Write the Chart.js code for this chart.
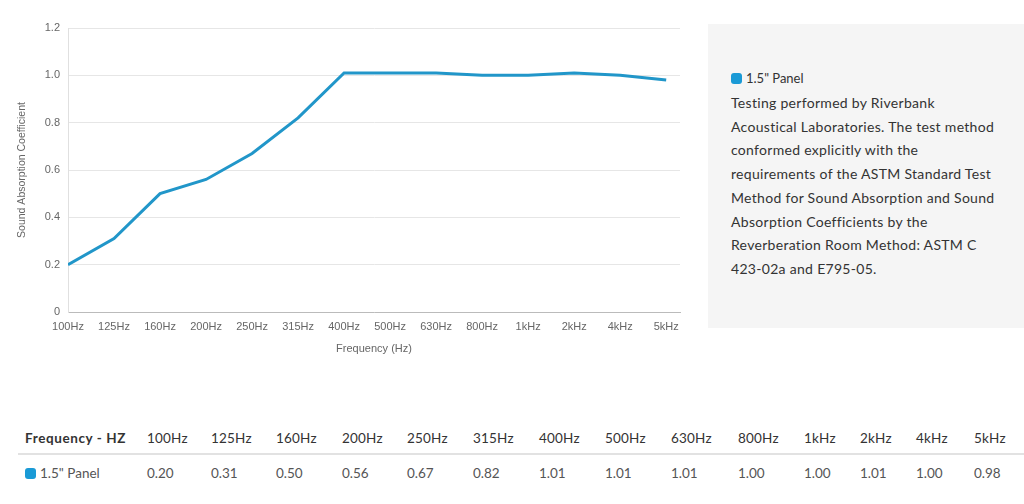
<!DOCTYPE html>
<html>
<head>
<meta charset="utf-8">
<script src="https://cdn.jsdelivr.net/npm/chart.js@4/dist/chart.umd.min.js"></script>
<style>
  html, body { margin: 0; padding: 0; background: #fff; width: 1024px; height: 504px; overflow: hidden; }
  #chartWrap { position: absolute; left: 0; top: 0; width: 690px; height: 356px; }
  #panel { position: absolute; left: 708px; top: 24px; width: 316px; height: 304px; background: #f5f5f5; box-sizing: border-box; padding: 46px 0 0 23px; font-family: Lato, "Open Sans", sans-serif; color: #333; }
  #panel .leg { font-size: 13px; line-height: 16px; display: flex; align-items: center; }
  #panel .sw { display: inline-block; width: 11px; height: 11px; border-radius: 3px; background: #1a9ad6; margin-right: 4px; }
  #panel p { margin: 5px 0 0 0; font-size: 14px; letter-spacing: 0.3px; line-height: 23.7px; white-space: nowrap; }
  #tbl { position: absolute; left: 18px; top: 423px; border-collapse: collapse; table-layout: fixed; font-family: Lato, "Open Sans", sans-serif; }
  #tbl th { font-size: 13.5px; font-weight: 400; color: #333; text-align: left; height: 30px; padding: 0; border-bottom: 2px solid #e2e2e2; letter-spacing: 0.2px; }
  #tbl th.first { font-weight: 700; letter-spacing: 0.6px; }
  #tbl td { font-size: 13.5px; color: #555; height: 36px; padding: 0; }
  .sq { display: inline-block; width: 11px; height: 11px; border-radius: 3px; background: #1a9ad6; margin-right: 4px; vertical-align: -1px; }
</style>
</head>
<body>
<div id="chartWrap"><canvas id="c"></canvas></div>
<div id="panel">
  <div class="leg"><span class="sw"></span><span id="legName"></span></div>
  <p id="desc"></p>
</div>
<table id="tbl"><thead><tr id="hrow"></tr></thead><tbody><tr id="drow"></tr></tbody></table>
<script>
const categories = ["100Hz","125Hz","160Hz","200Hz","250Hz","315Hz","400Hz","500Hz","630Hz","800Hz","1kHz","2kHz","4kHz","5kHz"];
const seriesName = '1.5" Panel';
const panelValues = [0.20, 0.31, 0.50, 0.56, 0.67, 0.82, 1.01, 1.01, 1.01, 1.00, 1.00, 1.01, 1.00, 0.98];
const yTicks = [0, 0.2, 0.4, 0.6, 0.8, 1.0, 1.2];
const descriptionLines = [
  "Testing performed by Riverbank",
  "Acoustical Laboratories. The test method",
  "conformed explicitly with the",
  "requirements of the ASTM Standard Test",
  "Method for Sound Absorption and Sound",
  "Absorption Coefficients by the",
  "Reverberation Room Method: ASTM C",
  "423-02a and E795-05."
];
const tableHeader = "Frequency - HZ";

document.getElementById('legName').textContent = seriesName;
const descEl = document.getElementById('desc');
descriptionLines.forEach((l, i) => {
  if (i) descEl.appendChild(document.createElement('br'));
  descEl.appendChild(document.createTextNode(l));
});

// table
const colW = [122, 64, 65, 66, 65, 66, 66, 66, 66, 67, 66, 56, 56, 58, 50];
const hrow = document.getElementById('hrow'), drow = document.getElementById('drow');
const th0 = document.createElement('th'); th0.className = 'first'; th0.textContent = tableHeader; th0.style.width = colW[0] + 'px'; th0.style.paddingLeft = '7px'; hrow.appendChild(th0);
const td0 = document.createElement('td'); td0.innerHTML = '<span class="sq"></span>'; td0.appendChild(document.createTextNode(seriesName)); td0.style.paddingLeft = '7px'; drow.appendChild(td0);
categories.forEach((c, i) => {
  const th = document.createElement('th'); th.textContent = c; th.style.width = colW[i + 1] + 'px'; hrow.appendChild(th);
  const td = document.createElement('td'); td.textContent = panelValues[i].toFixed(2); drow.appendChild(td);
});

const ctx = document.getElementById('c');
new Chart(ctx, {
  type: 'line',
  data: {
    datasets: [{
      label: seriesName,
      data: panelValues.map((v, i) => ({ x: i, y: v })),
      borderColor: '#2196c9',
      borderWidth: 3,
      pointRadius: 0,
      tension: 0,
      fill: false
    }]
  },
  options: {
    responsive: true,
    maintainAspectRatio: false,
    animation: false,
    layout: { padding: { top: 28, right: 10, left: 0, bottom: 0 } },
    plugins: { legend: { display: false }, tooltip: { enabled: false } },
    scales: {
      x: {
        type: 'linear',
        min: 0,
        max: 13.3,
        afterBuildTicks: s => { s.ticks = categories.map((c, i) => ({ value: i })); },
        ticks: {
          callback: (v) => categories[v] ?? '',
          color: '#666', font: { family: 'Liberation Sans, Arial', size: 11 },
          maxRotation: 0, autoSkip: false, padding: 8
        },
        grid: { display: false, drawTicks: false },
        border: { display: true, color: '#bbb', width: 1 },
        title: { display: true, text: 'Frequency (Hz)', color: '#666', font: { family: 'Liberation Sans, Arial', size: 11 }, padding: { top: 4, bottom: 0 } },
        afterFit: s => { s.height = 44; }
      },
      y: {
        min: 0,
        max: 1.2,
        afterBuildTicks: s => { s.ticks = yTicks.map(v => ({ value: v })); },
        ticks: {
          callback: (v) => v === 0 ? '0' : v.toFixed(1),
          color: '#666', font: { family: 'Liberation Sans, Arial', size: 11 }, padding: 8
        },
        grid: { color: '#e6e6e6', drawTicks: false },
        border: { display: true, color: '#e0e0e0' },
        title: { display: true, text: 'Sound Absorption Coefficient', color: '#666', font: { family: 'Liberation Sans, Arial', size: 10.5 }, padding: { top: 16, bottom: 0 } },
        afterFit: s => { s.width = 68; }
      }
    }
  }
});
</script>
</body>
</html>
